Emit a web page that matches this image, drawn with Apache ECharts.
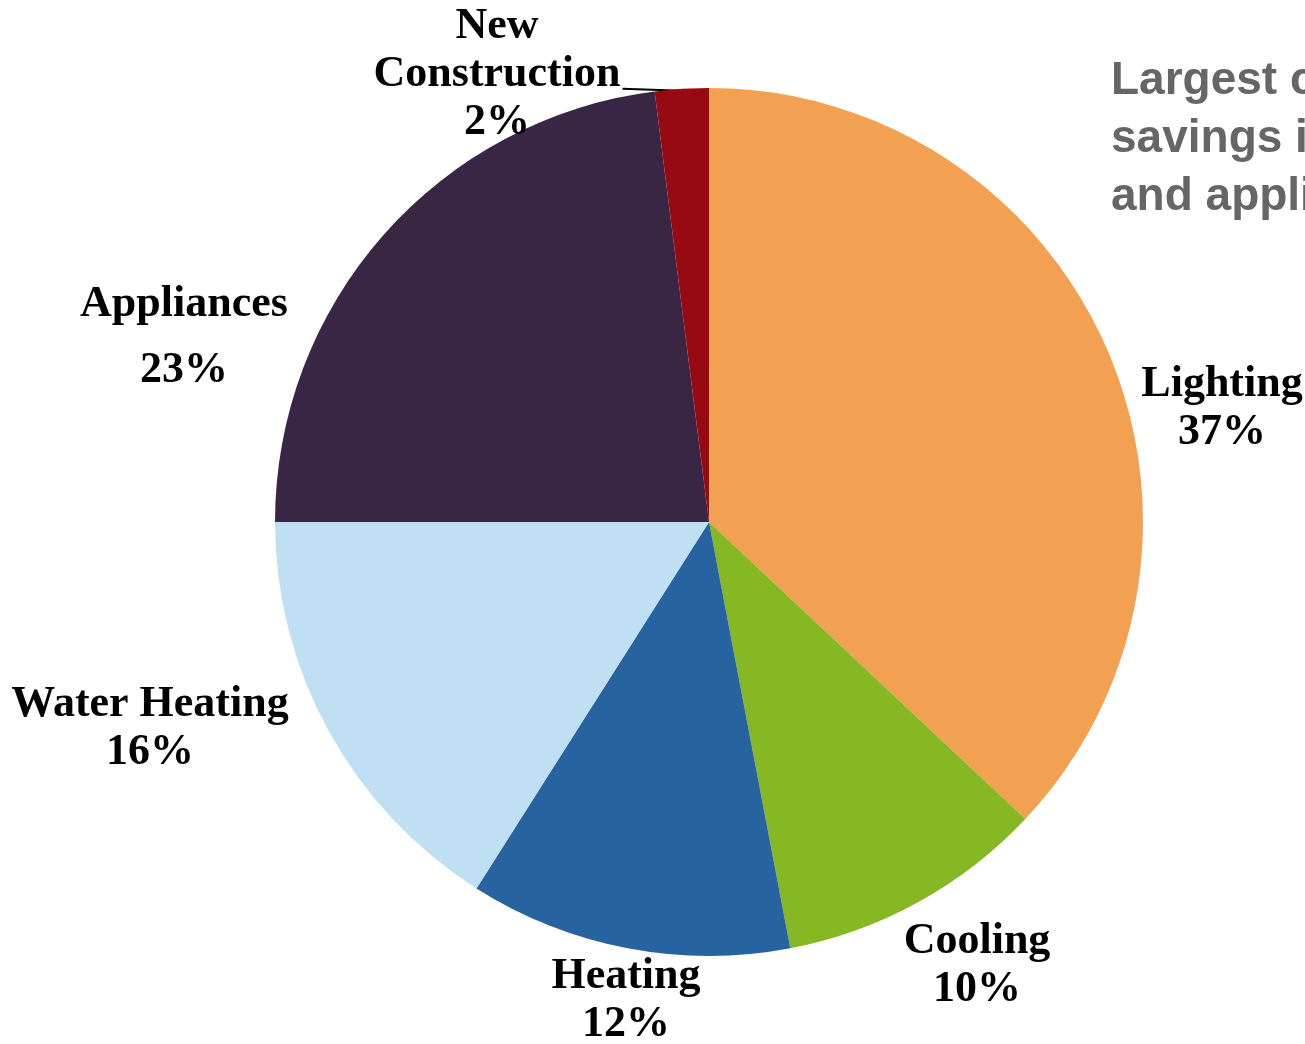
<!DOCTYPE html>
<html>
<head>
<meta charset="utf-8">
<style>
  html, body { margin: 0; padding: 0; background: #ffffff; }
  #chart { width: 1305px; height: 1044px; }
</style>
<script src="https://cdn.jsdelivr.net/npm/echarts@6/dist/echarts.min.js"></script>
</head>
<body>
<div id="chart"></div>
<script>
// Share of savings by end use (percent)
const categories = ['Lighting', 'Cooling', 'Heating', 'Water Heating', 'Appliances', 'New Construction'];
const shares = [37, 10, 12, 16, 23, 2];
const sliceColors = ['#F2A052', '#86B823', '#2763A0', '#BFE0F3', '#392645', '#980A11'];
const headline = ['Largest contributors to', 'savings in lighting', 'and appliances'];

// Where each label block sits (centre of the block, in pixels)
const labelSpots = {
  'Lighting': [1222, 409],
  'Cooling': [977, 966],
  'Heating': [626, 1001],
  'Water Heating': [150, 729],
  'Appliances': [184, 347],
  'New Construction': [497, 75]
};

const chart = echarts.init(document.getElementById('chart'), null, { renderer: 'canvas' });

const labelFont = {
  fontFamily: '"Liberation Serif", "Times New Roman", serif',
  fontWeight: 'bold',
  fontSize: 44,
  color: '#000000'
};

const data = categories.map((name, i) => ({
  name: name,
  value: shares[i],
  itemStyle: { color: sliceColors[i] },
  labelLine: { show: name === 'New Construction' }
}));

chart.setOption({
  backgroundColor: '#ffffff',
  animation: false,
  series: [{
    type: 'pie',
    center: [709, 522],
    radius: [0, 434],
    startAngle: 90,
    clockwise: true,
    avoidLabelOverlap: false,
    data: data,
    itemStyle: { borderWidth: 0 },
    label: {
      show: true,
      position: 'outside',
      formatter: function (p) {
        const words = p.name === 'New Construction' ? 'New\nConstruction' : p.name;
        const lines = words.split('\n').map(w => '{n|' + w + '}');
        const pctKey = p.name === 'Appliances' ? 'pg' : 'n';
        lines.push('{' + pctKey + '|' + p.value + '%}');
        return lines.join('\n');
      },
      rich: {
        n: Object.assign({ lineHeight: 48, align: 'center' }, labelFont),
        pg: Object.assign({ lineHeight: 84, align: 'center' }, labelFont)
      }
    },
    labelLine: {
      show: true,
      lineStyle: { color: '#000000', width: 2 }
    },
    labelLayout: function (params) {
      const name = categories[params.dataIndex];
      const spot = labelSpots[name];
      const layout = {
        x: spot[0],
        y: spot[1],
        align: 'center',
        verticalAlign: 'middle'
      };
      if (name === 'New Construction' && params.labelLinePoints) {
        // leader runs flat from the slice rim to the end of "Construction"
        const rim = params.labelLinePoints[0];
        const textRight = spot[0] + params.labelRect.width / 2 + 2;
        layout.labelLinePoints = [
          [rim[0], rim[1] + 2],
          [(rim[0] + textRight) / 2, rim[1] + 1],
          [textRight, rim[1]]
        ];
      }
      return layout;
    }
  }],
  graphic: [{
    type: 'text',
    left: 1111,
    top: 52,
    style: {
      text: headline.join('\n'),
      fontFamily: '"Liberation Sans", Arial, sans-serif',
      fontWeight: 'bold',
      fontSize: 46,
      lineHeight: 58,
      fill: '#666666'
    }
  }]
});
</script>
</body>
</html>
